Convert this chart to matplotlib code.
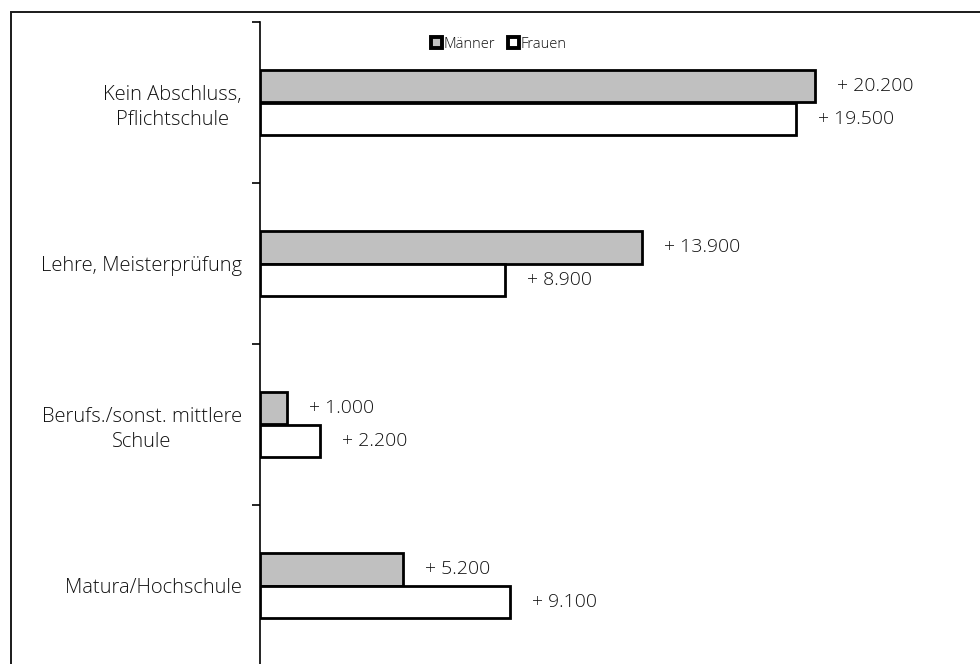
import numpy as np
import matplotlib.pyplot as plt
from matplotlib.patches import Rectangle, Patch

categories = ["Kein Abschluss,\nPflichtschule", "Lehre, Meisterprüfung",
              "Berufs./sonst. mittlere\nSchule", "Matura/Hochschule"]
maenner = [20.2, 13.9, 1.0, 5.2]
frauen = [19.5, 8.9, 2.2, 9.1]
labels_m = ["+ 20.200", "+ 13.900", "+ 1.000", "+ 5.200"]
labels_f = ["+ 19.500", "+ 8.900", "+ 2.200", "+ 9.100"]

plt.rcParams['font.family'] = ['Open Sans', 'DejaVu Sans']
txt = dict(color='#111111', fontweight='light')

fig = plt.figure(figsize=(9.8, 6.64), dpi=100)
ax = fig.add_axes([260/980, -2/664, (947-260)/980, 644/664])

# outer frame, runs off the right and bottom edge
fig.patches.append(Rectangle((11/980, -0.1), 1.2, 1 - 12/664 + 0.1,
                             transform=fig.transFigure, fill=False,
                             lw=1.4, ec='#1a1a1a'))

y = np.arange(len(categories))
h = 0.2
ax.barh(y - h/2, maenner, height=h, color='#c0c0c0', edgecolor='black', lw=2.0)
ax.barh(y + h/2, frauen, height=h, color='white', edgecolor='black', lw=2.0)

for i in range(len(categories)):
    ax.text(maenner[i] + 0.8, y[i] - h/2, labels_m[i], va='center', ha='left', fontsize=14, **txt)
    ax.text(frauen[i] + 0.8, y[i] + h/2, labels_f[i], va='center', ha='left', fontsize=14, **txt)

ax.set_xlim(0, 25)
ax.set_ylim(3.5, -0.5)
ax.set_yticks(y)
ax.set_yticklabels(categories, fontsize=14.5, multialignment='center',
                   linespacing=1.35, **txt)
ax.tick_params(axis='y', which='major', length=0, pad=13)
ax.set_yticks(np.arange(-0.5, 4.0, 1.0), minor=True)
ax.tick_params(axis='y', which='minor', length=6, width=1.2, direction='out')
ax.set_xticks([])
for s in ['top', 'right', 'bottom']:
    ax.spines[s].set_visible(False)
ax.spines['left'].set_linewidth(1.2)

handles = [Patch(facecolor='#c0c0c0', edgecolor='black', lw=2.8, label='Männer'),
           Patch(facecolor='white', edgecolor='black', lw=2.8, label='Frauen')]
fig.legend(handles=handles, loc='center', bbox_to_anchor=(499/980, 1 - 44/664),
           ncol=2, frameon=False, prop={'size': 10.5, 'weight': 'light'},
           handlelength=0.7, handleheight=0.7, labelcolor='#111111',
           handletextpad=0.15, columnspacing=0.9)

fig.savefig('out.png', dpi=100)
